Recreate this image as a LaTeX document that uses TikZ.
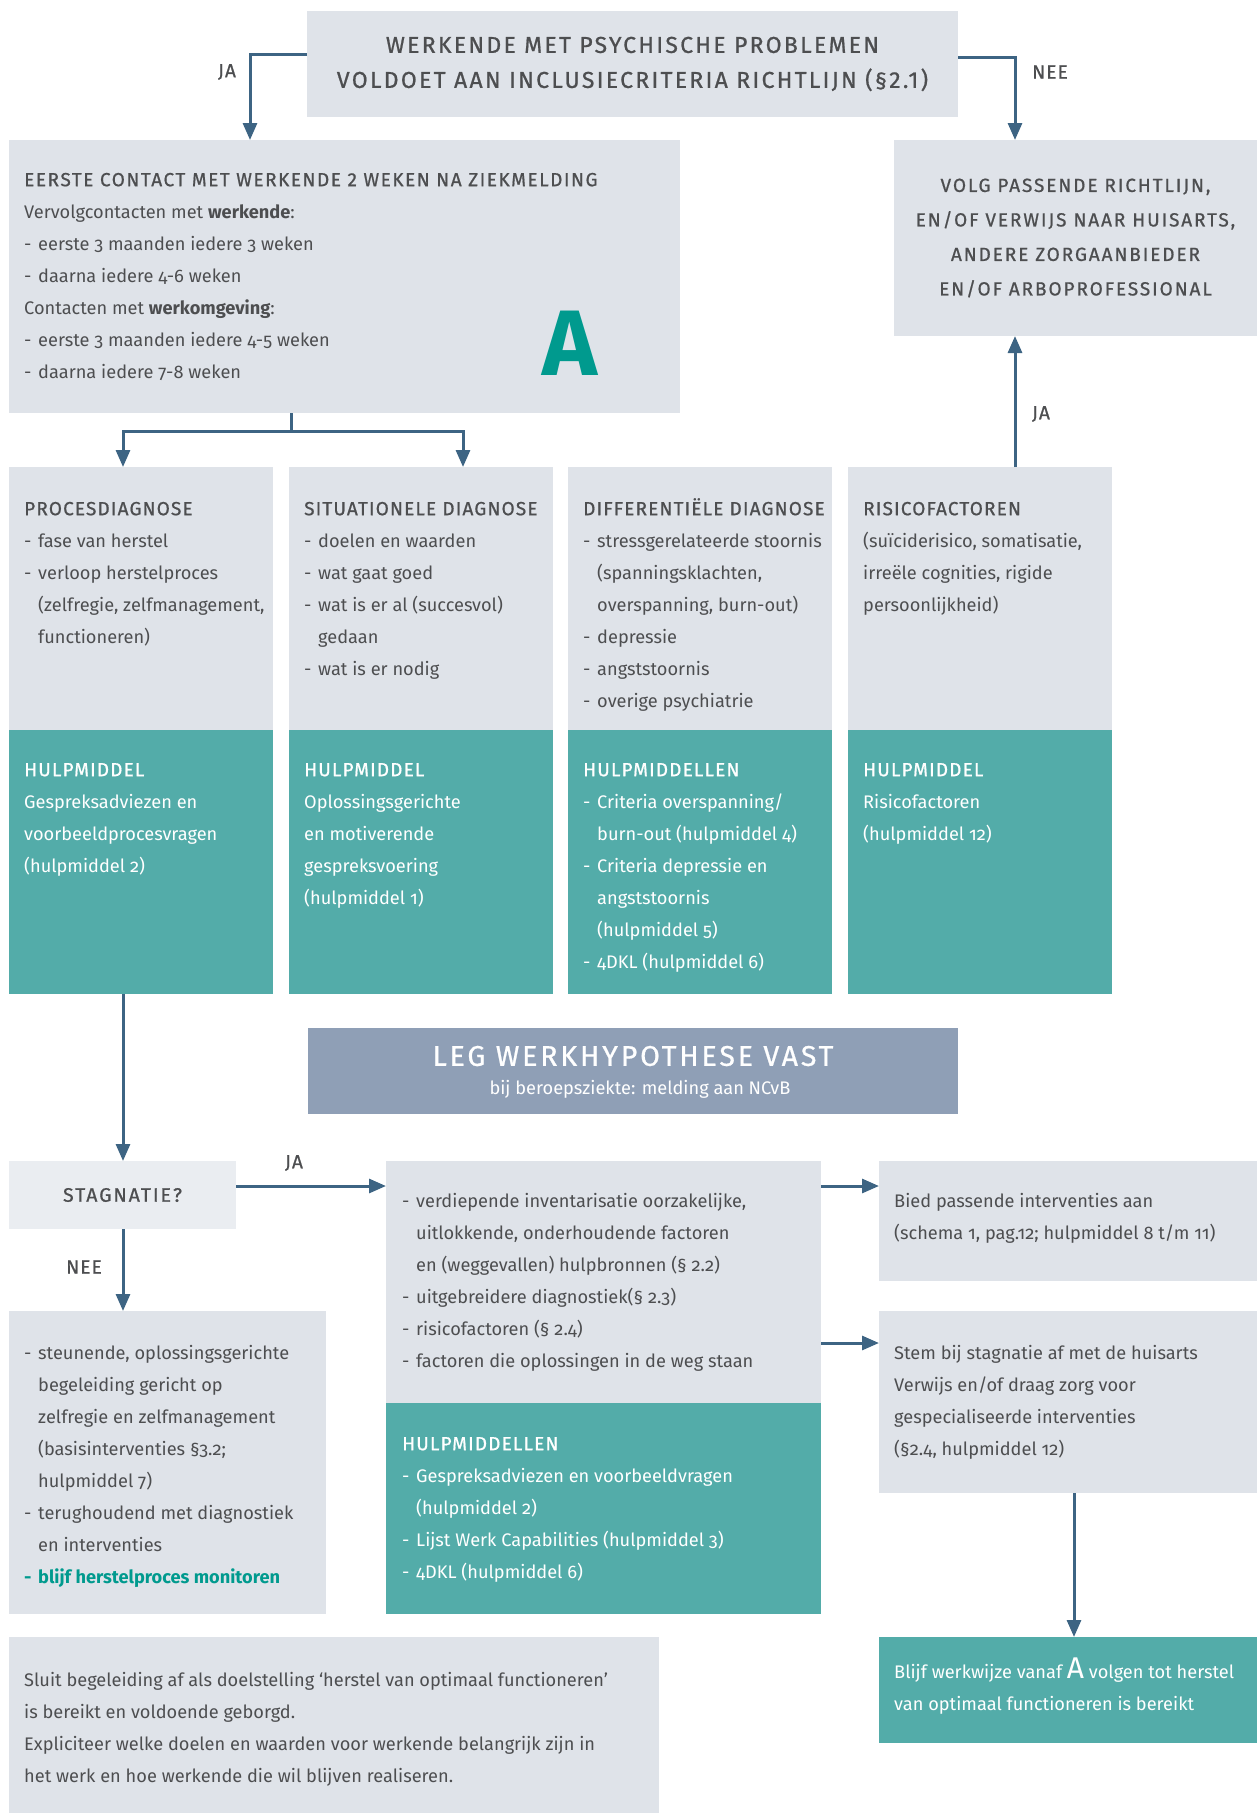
\documentclass[tikz,border=0pt]{standalone}
\usepackage{fontspec}
\setmainfont{Fira Sans}[Numbers=OldStyle]
\newfontfamily\capsfam{Fira Sans}[LetterSpace=6, FakeBold=0.8]
\newfontfamily\widecaps{Fira Sans}[LetterSpace=10, FakeBold=0.8]
\usepackage{tikz}
\usepackage{xcolor}
\usetikzlibrary{arrows.meta, positioning, calc}

\definecolor{boxgray}{HTML}{DFE3E9}
\definecolor{stagray}{HTML}{EAEDF1}
\definecolor{tealbox}{HTML}{53ACA9}
\definecolor{slatebox}{HTML}{8F9FB6}
\definecolor{linkblue}{HTML}{3D6483}
\definecolor{txtgray}{HTML}{4D4E50}
\definecolor{tealtxt}{HTML}{009A8E}

\newcommand\bodyfont{\fontsize{18.2}{32}\selectfont}
\newcommand\headfont{\capsfam\fontsize{19}{32}\selectfont}
\newcommand\topfont{\widecaps\fontsize{23}{35}\selectfont}
\newcommand\fl{\rule{0pt}{22pt}}
\newcommand\dsh{\makebox[14pt][l]{-}}
\newcommand\ind{\hspace*{14pt}}

\begin{document}
\begin{tikzpicture}[x=1pt, y=-1pt,
  box/.style={anchor=north west, inner sep=0, outer sep=0, fill=boxgray, text=txtgray},
  hulp/.style={box, fill=tealbox, text=white},
  txt/.style={anchor=north west, inner sep=0, align=left, font=\bodyfont, text=txtgray},
  wtxt/.style={txt, text=white},
  lbl/.style={inner sep=0, font=\headfont, text=txtgray},
  link/.style={line width=3pt, draw=linkblue},
  arr/.style={link, -{Triangle[length=17pt,width=14pt]}}]
\useasboundingbox (0,0) rectangle (1257,1813);

% Start
\node[box, minimum width=651pt, minimum height=106pt, align=center, font=\topfont] (start) at (307,11)
  {WERKENDE MET PSYCHISCHE PROBLEMEN\\VOLDOET AAN INCLUSIECRITERIA RICHTLIJN (§2.1)};
\node[box, minimum width=671pt, minimum height=273pt] (contact) at (9,140) {};
\node[txt] (contacttxt) at (24,164) {\fl{\headfont\addfontfeature{LetterSpace=8} EERSTE CONTACT MET WERKENDE 2 WEKEN NA ZIEKMELDING}\\
  Vervolgcontacten met \textbf{werkende}:\\
  \dsh eerste 3 maanden iedere 3 weken\\
  \dsh daarna iedere 4-6 weken\\
  Contacten met \textbf{werkomgeving}:\\
  \dsh eerste 3 maanden iedere 4-5 weken\\
  \dsh daarna iedere 7-8 weken};
\node[inner sep=0, font=\fontsize{93}{93}\selectfont\bfseries, text=tealtxt] (bigA) at (570,343) {A};
\node[box, minimum width=363pt, minimum height=196pt, align=center, font=\widecaps\fontsize{19}{34.5}\selectfont] (volg) at (894,140)
  {VOLG PASSENDE RICHTLIJN,\\EN/OF VERWIJS NAAR HUISARTS,\\ANDERE ZORGAANBIEDER\\EN/OF ARBOPROFESSIONAL};

% Diagnose columns
\node[box, minimum width=264pt, minimum height=263pt] (proc) at (9,467) {};
\node[hulp, minimum width=264pt, minimum height=264pt] (prochulp) at (9,730) {};
\node[box, minimum width=264pt, minimum height=263pt] (sit) at (289,467) {};
\node[hulp, minimum width=264pt, minimum height=264pt] (sithulp) at (289,730) {};
\node[box, minimum width=264pt, minimum height=263pt] (diff) at (568,467) {};
\node[hulp, minimum width=264pt, minimum height=264pt] (diffhulp) at (568,730) {};
\node[box, minimum width=264pt, minimum height=263pt] (risk) at (848,467) {};
\node[hulp, minimum width=264pt, minimum height=264pt] (riskhulp) at (848,730) {};

\node[txt] (proctxt) at (24,493) {\fl{\headfont PROCESDIAGNOSE}\\
  \dsh fase van herstel\\
  \dsh verloop herstelproces\\
  \ind(zelfregie, zelfmanagement,\\
  \ind functioneren)};
\node[wtxt] (prochulptxt) at (24,754) {\fl{\headfont HULPMIDDEL}\\
  Gespreksadviezen en\\
  voorbeeldprocesvragen\\
  (hulpmiddel 2)};
\node[txt] (sittxt) at (304,493) {\fl{\headfont SITUATIONELE DIAGNOSE}\\
  \dsh doelen en waarden\\
  \dsh wat gaat goed\\
  \dsh wat is er al (succesvol)\\
  \ind gedaan\\
  \dsh wat is er nodig};
\node[wtxt] (sithulptxt) at (304,754) {\fl{\headfont HULPMIDDEL}\\
  Oplossingsgerichte\\
  en motiverende\\
  gespreksvoering\\
  (hulpmiddel 1)};
\node[txt] (difftxt) at (583,493) {\fl{\headfont DIFFERENTIËLE DIAGNOSE}\\
  \dsh stressgerelateerde stoornis\\
  \ind(spanningsklachten,\\
  \ind overspanning, burn-out)\\
  \dsh depressie\\
  \dsh angststoornis\\
  \dsh overige psychiatrie};
\node[wtxt] (diffhulptxt) at (583,754) {\fl{\headfont HULPMIDDELLEN}\\
  \dsh Criteria overspanning/\\
  \ind burn-out (hulpmiddel 4)\\
  \dsh Criteria depressie en\\
  \ind angststoornis\\
  \ind(hulpmiddel 5)\\
  \dsh 4DKL (hulpmiddel 6)};
\node[txt] (risktxt) at (863,493) {\fl{\headfont RISICOFACTOREN}\\
  (suïciderisico, somatisatie,\\
  irreële cognities, rigide\\
  persoonlijkheid)};
\node[wtxt] (riskhulptxt) at (863,754) {\fl{\headfont HULPMIDDEL}\\
  Risicofactoren\\
  (hulpmiddel 12)};

% Werkhypothese
\node[box, fill=slatebox, minimum width=650pt, minimum height=86pt] (hypo) at (308,1028) {};
\node[inner sep=0, text=white, font=\widecaps\fontsize{28.5}{30}\selectfont] (hypotitle) at (633,1056) {LEG WERKHYPOTHESE VAST};
\node[inner sep=0, text=white, font=\bodyfont] (hyposub) at (640,1089) {bij beroepsziekte: melding aan NCvB};

% Stagnatie
\node[box, fill=stagray, minimum width=227pt, minimum height=68pt, font=\widecaps\fontsize{19.5}{32}\selectfont] (stag) at (9,1161) {STAGNATIE?};
\node[box, minimum width=435pt, minimum height=242pt] (mid) at (386,1161) {};
\node[hulp, minimum width=435pt, minimum height=211pt] (midhulp) at (386,1403) {};
\node[txt] (midtxt) at (402,1185) {\fl\dsh verdiepende inventarisatie oorzakelijke,\\
  \ind uitlokkende, onderhoudende factoren\\
  \ind en (weggevallen) hulpbronnen (§ 2.2)\\
  \dsh uitgebreidere diagnostiek(§ 2.3)\\
  \dsh risicofactoren (§ 2.4)\\
  \dsh factoren die oplossingen in de weg staan};
\node[wtxt] (midhulptxt) at (402,1428) {\fl{\headfont HULPMIDDELLEN}\\
  \dsh Gespreksadviezen en voorbeeldvragen\\
  \ind(hulpmiddel 2)\\
  \dsh Lijst Werk Capabilities (hulpmiddel 3)\\
  \dsh 4DKL (hulpmiddel 6)};
\node[box, minimum width=317pt, minimum height=303pt] (steun) at (9,1311) {};
\node[txt] (steuntxt) at (24,1337) {\fl\dsh steunende, oplossingsgerichte\\
  \ind begeleiding gericht op\\
  \ind zelfregie en zelfmanagement\\
  \ind(basisinterventies §3.2;\\
  \ind hulpmiddel 7)\\
  \dsh terughoudend met diagnostiek\\
  \ind en interventies\\
  {\color{tealtxt}\bfseries\dsh blijf herstelproces monitoren}};
\node[box, minimum width=650pt, minimum height=176pt] (afsluit) at (9,1637) {};
\node[txt] (afsluittxt) at (24,1664) {\fl Sluit begeleiding af als doelstelling ‘herstel van optimaal functioneren’\\
  is bereikt en voldoende geborgd.\\
  Expliciteer welke doelen en waarden voor werkende belangrijk zijn in\\
  het werk en hoe werkende die wil blijven realiseren.};
\node[box, minimum width=378pt, minimum height=120pt] (bied) at (879,1161) {};
\node[txt] (biedtxt) at (894,1185) {\fl Bied passende interventies aan\\
  (schema 1, pag.12; hulpmiddel 8 t/m 11)};
\node[box, minimum width=378pt, minimum height=182pt] (stem) at (879,1311) {};
\node[txt] (stemtxt) at (894,1337) {\fl Stem bij stagnatie af met de huisarts\\
  Verwijs en/of draag zorg voor\\
  gespecialiseerde interventies\\
  (§2.4, hulpmiddel 12)};
\node[hulp, minimum width=378pt, minimum height=106pt] (blijf) at (879,1637) {};
\node[wtxt] (blijftxt) at (894,1656) {\fl Blijf werkwijze vanaf {\fontsize{30}{32}\selectfont A} volgen tot herstel\\
  van optimaal functioneren is bereikt};

% Labels
\node[lbl] (ja1) at (227,72) {JA};
\node[lbl] (nee1) at (1050,72) {NEE};
\node[lbl] (ja2) at (1041,414) {JA};
\node[lbl] (ja3) at (294,1163) {JA};
\node[lbl] (nee2) at (84,1267) {NEE};

% Connectors
\draw[arr] ([yshift=-43pt]start.north west) -| ([xshift=241pt]contact.north west);
\draw[arr] ([yshift=-46pt]start.north east) -| ([xshift=121pt]volg.north west);
\draw[link] ([xshift=282pt]contact.south west) -- ++(0,18) coordinate (split);
\draw[arr] (split) -| ([xshift=114pt]proc.north west);
\draw[arr] (split) -| ([xshift=174pt]sit.north west);
\draw[arr] ([xshift=167pt]risk.north west) -- ([xshift=121pt]volg.south west);
\draw[arr] ([xshift=114pt]prochulp.south west) -- ([xshift=114pt]stag.north west);
\draw[arr] ([yshift=-25pt]stag.north east) -- ([yshift=-25pt]mid.north west);
\draw[arr] ([xshift=114pt]stag.south west) -- ([xshift=114pt]steun.north west);
\draw[arr] ([yshift=-25pt]mid.north east) -- ([yshift=-25pt]bied.north west);
\draw[arr] ([yshift=-182pt]mid.north east) -- ([yshift=-32pt]stem.north west);
\draw[arr] ([xshift=195pt]stem.south west) -- ([xshift=195pt]blijf.north west);
\end{tikzpicture}
\end{document}
